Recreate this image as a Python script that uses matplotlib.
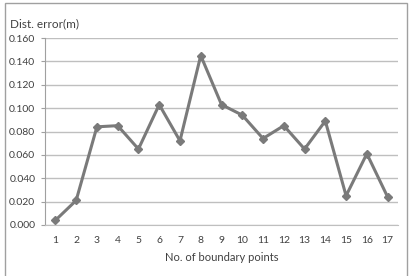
import matplotlib
matplotlib.use("Agg")
import matplotlib.pyplot as plt
from matplotlib.patches import Rectangle

points = list(range(1, 18))
dist_error = [0.004, 0.021, 0.084, 0.085, 0.065, 0.103, 0.072, 0.145, 0.103,
              0.094, 0.074, 0.085, 0.065, 0.089, 0.025, 0.061, 0.024]
y_ticks = [0.000, 0.020, 0.040, 0.060, 0.080, 0.100, 0.120, 0.140, 0.160]

plt.rcParams['font.family'] = ['Lato', 'DejaVu Sans']
txt = '#404040'
grey = '#7a7a7a'

fig = plt.figure(figsize=(4.13, 2.76), dpi=100)
ax = fig.add_axes([45 / 413, 1 - 225 / 276, 353 / 413, 187 / 276])

ax.plot(points, dist_error, color=grey, linewidth=2.2, marker='D',
        markersize=4.5, markerfacecolor=grey, markeredgecolor=grey)

ax.set_xlim(0.5, 17.5)
ax.set_ylim(0, 0.16)
ax.set_yticks(y_ticks)
ax.set_yticklabels(['%.3f' % v for v in y_ticks])
ax.set_xticks(points)
ax.grid(axis='y', color='#bfbfbf', linewidth=1.0)
ax.set_axisbelow(True)

for s in ['top', 'right']:
    ax.spines[s].set_visible(False)
ax.spines['left'].set_color('#a0a0a0')
ax.spines['bottom'].set_color('#bfbfbf')
ax.tick_params(axis='y', length=3, color='#a0a0a0', labelsize=7.5, labelcolor=txt, pad=4)
ax.tick_params(axis='x', length=0, labelsize=7.5, labelcolor=txt, pad=8)

ax.set_xlabel('No. of boundary points', fontsize=8, color=txt, labelpad=5)
fig.text(10 / 413, 1 - 24 / 276, 'Dist. error(m)', fontsize=8.5, color=txt,
         va='center', ha='left')

fig.patches.append(Rectangle((4.5 / 413, -0.05), (407 - 4.5) / 413, 1.05 - 3 / 276,
                             transform=fig.transFigure, fill=False,
                             edgecolor='#a0a0a0', linewidth=1.0))

fig.savefig('out.png', dpi=100)
